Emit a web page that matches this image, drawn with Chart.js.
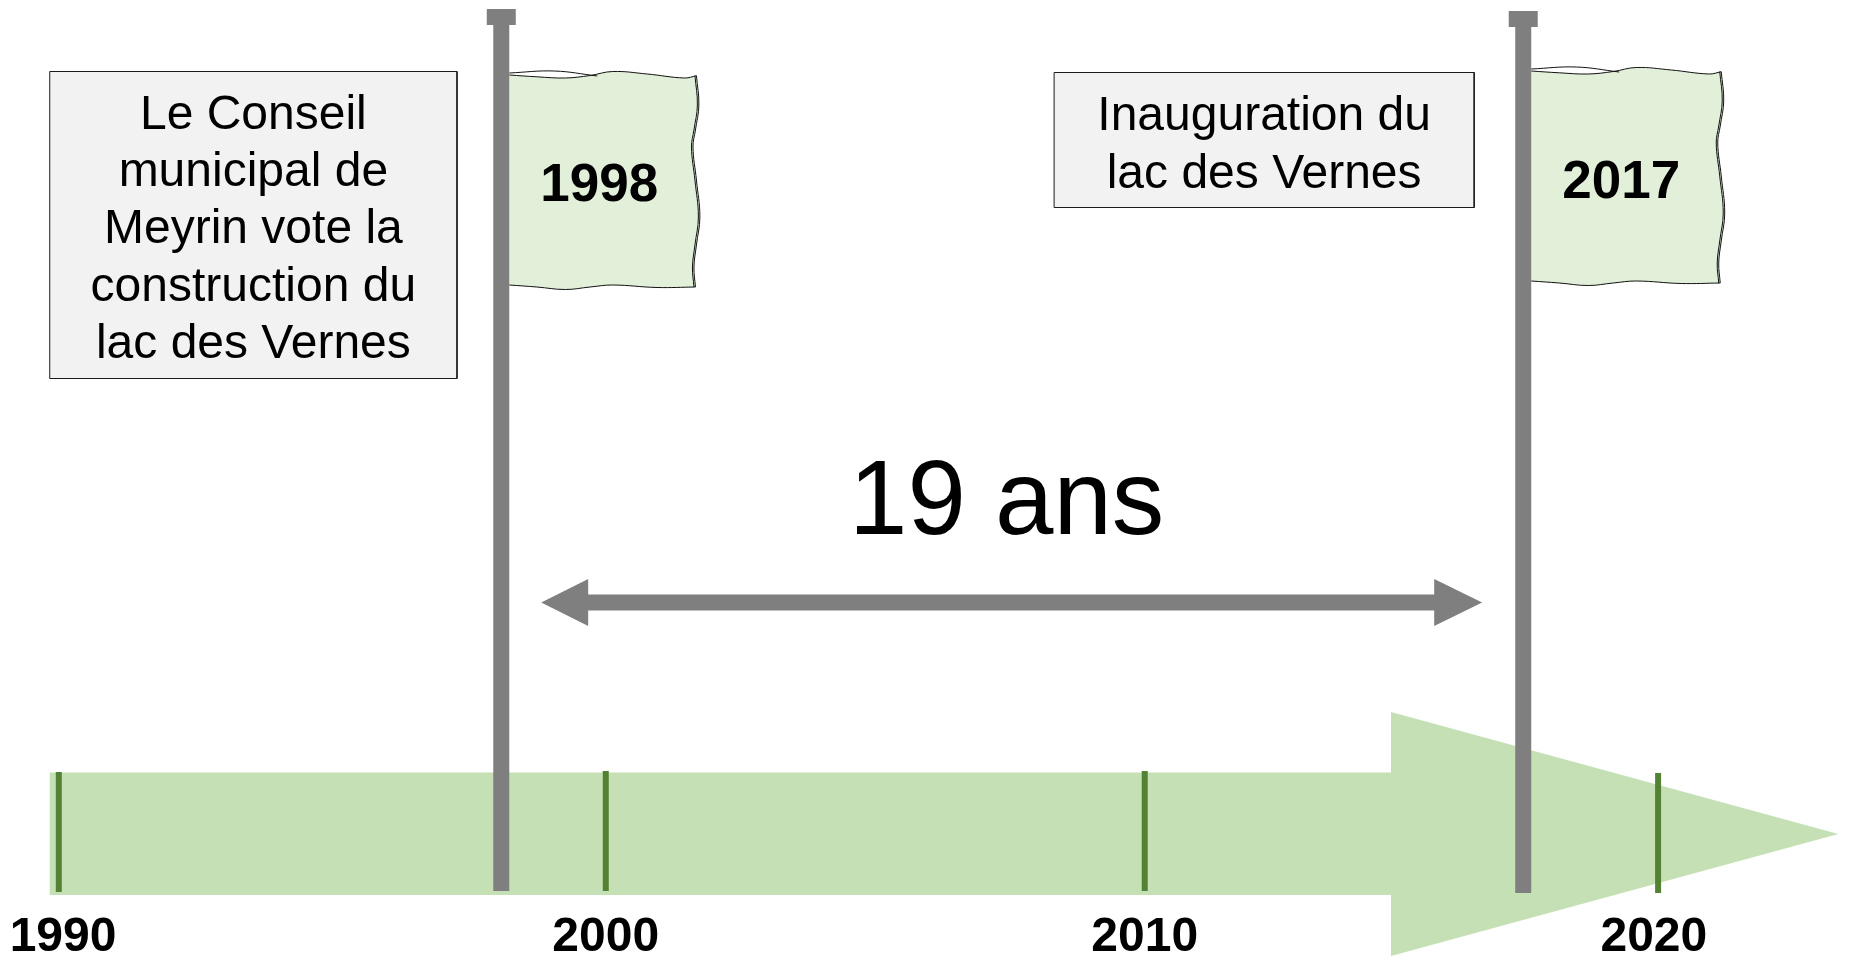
<!DOCTYPE html>
<html>
<head>
<meta charset="utf-8">
<title>Lac des Vernes</title>
<script src="https://cdn.jsdelivr.net/npm/chart.js@4"></script>
<style>
    html, body { margin: 0; padding: 0; background: #ffffff; }
    canvas { display: block; }
</style>
</head>
<body>
<canvas id="myChart" width="1849" height="958"></canvas>
<script>
// data (the axis is drawn slightly uneven, hence the decimals)
var tickLabels = ['1990', '2000', '2010', '2020'];
var tickYears = [1990, 2000.26, 2010.37, 2020];
var tickLabelYears = [1990.08, 2000.26, 2010.37, 2019.92];
var eventLabels = ['1998', '2017'];
var eventYears = [1998.3, 2017.47];
var durationLabel = '19 ans';
var startText = ['Le Conseil', 'municipal de', 'Meyrin vote la', 'construction du', 'lac des Vernes'];
var endText = ['Inauguration du', 'lac des Vernes'];

var pxPerYear = 53.31;
var xMin = 1988.897;
var xMax = xMin + 1849 / pxPerYear;

// width in pixels -> width in axis years
function yr(px) {
    return px / pxPerYear;
}

function poly(points, color, extra) {
    var ds = {
        data: points,
        showLine: true,
        pointRadius: 0,
        borderWidth: 0,
        borderColor: color,
        backgroundColor: color,
        fill: 'shape',
        clip: false
    };
    for (var k in (extra || {})) {
        ds[k] = extra[k];
    }
    return ds;
}

function line(points, color, width, extra) {
    return poly(points, color, Object.assign({ fill: false, borderWidth: width }, extra || {}));
}

function box(x0, x1, y0, y1) {
    return poly([{ x: x0, y: y0 }, { x: x1, y: y0 }, { x: x1, y: y1 }, { x: x0, y: y1 }, { x: x0, y: y0 }], '#f2f2f2', {
        borderColor: '#1a1a1a',
        borderWidth: 1
    });
}

// waving flag edges, pixels from the top left corner of a flag of 190 wide
var flagTop = [[0, 0], [28, 1.8], [57, 3], [82, 0.5], [105, -3.5], [140, -1], [178, 3], [190, 0.7]];
var flagRight = [[190, 0.7], [192.5, 30], [189, 55], [186.5, 72], [190, 105], [193.5, 142], [190, 170], [187.5, 192], [189, 212]];
var flagBottom = [[189, 212], [150, 212.5], [105, 210], [82, 212], [57, 214.5], [28, 212], [0, 210]];

function flagPoints(edge, i, widthFactor) {
    var left = eventYears[i] + yr(8);
    var top = i == 0 ? 75 : 71;
    return edge.map(function (p) {
        return { x: left + yr(p[0] * widthFactor), y: top + p[1] };
    });
}

function addFlag(list, i) {
    var f = i == 0 ? 0.985 : 1;
    // the three outlines with a small offset copy, as in the drawing
    var top = flagPoints(flagTop, i, f);
    var right = flagPoints(flagRight, i, f);
    var bottom = flagPoints(flagBottom, i, f);
    var left = eventYears[i] + yr(8);
    var y0 = i == 0 ? 75 : 71;
    list.push(line(top, '#111111', 1, { tension: 0.4 }));
    list.push(line(right, '#111111', 1, { tension: 0.4 }));
    list.push(line(bottom, '#111111', 1, { tension: 0.4 }));
    list.push(line([{ x: left, y: y0 - 2 }, { x: left + yr(45), y: y0 - 4 }, { x: left + yr(88), y: y0 + 1 }], '#111111', 1, { tension: 0.4 }));
    list.push(line(right.map(function (p) { return { x: p.x - yr(1.5), y: p.y }; }), '#111111', 1, { tension: 0.4 }));
    list.push(poly(top.concat(right, bottom), '#e2f0d9'));
}

var datasets = [];

// poles with their caps
var poleTops = [9, 11];
var poleBottoms = [891, 893];
eventYears.forEach(function (year, i) {
    datasets.push(line([{ x: year, y: poleTops[i] }, { x: year, y: poleTops[i] + 16 }], '#7f7f7f', 29));
    datasets.push(line([{ x: year, y: poleTops[i] + 16 }, { x: year, y: poleBottoms[i] }], '#7f7f7f', 16));
});

// flags
addFlag(datasets, 0);
addFlag(datasets, 1);

// text boxes
datasets.push(box(1989.83, 1997.47, 71.5, 378.5));
datasets.push(box(2008.67, 2016.55, 72.5, 207.5));

// double arrow between both events
datasets.push(poly([
    { x: 1999.05, y: 602.5 }, { x: 1999.93, y: 579 }, { x: 1999.93, y: 594.5 },
    { x: 2015.8, y: 594.5 }, { x: 2015.8, y: 579 }, { x: 2016.7, y: 602.5 },
    { x: 2015.8, y: 626 }, { x: 2015.8, y: 610.5 }, { x: 1999.93, y: 610.5 },
    { x: 1999.93, y: 626 }, { x: 1999.05, y: 602.5 }
], '#7f7f7f'));

// year marks
var tickTops = [772, 771, 771, 773];
tickYears.forEach(function (year, i) {
    datasets.push(line([{ x: year, y: tickTops[i] }, { x: year, y: tickTops[i] + 120 }], '#548235', 6));
});

// big timeline arrow
datasets.push(poly([
    { x: 1989.83, y: 772.5 }, { x: 2014.99, y: 772.5 }, { x: 2014.99, y: 712 },
    { x: 2023.38, y: 834 }, { x: 2014.99, y: 956 }, { x: 2014.99, y: 895 },
    { x: 1989.83, y: 895 }, { x: 1989.83, y: 772.5 }
], '#c5e0b4'));

var textPlugin = {
    id: 'texts',
    afterDatasetsDraw: function (chart) {
        var ctx = chart.ctx;
        var sx = chart.scales.x, sy = chart.scales.y;
        function put(str, xv, yv, font) {
            ctx.font = font;
            ctx.fillText(str, sx.getPixelForValue(xv), sy.getPixelForValue(yv));
        }
        ctx.save();
        ctx.fillStyle = '#000000';
        ctx.textAlign = 'center';
        ctx.textBaseline = 'alphabetic';

        var regular = '48px "Liberation Sans"';
        var bold = 'bold 53px "Liberation Sans"';

        var center1 = (1989.83 + 1997.47) / 2;
        var base1 = [129, 186, 243, 301, 358];
        startText.forEach(function (s, i) { put(s, center1, base1[i], regular); });

        var center2 = (2008.67 + 2016.55) / 2;
        var base2 = [130, 188];
        endText.forEach(function (s, i) { put(s, center2, base2[i], regular); });

        var flagBase = [201, 198];
        eventLabels.forEach(function (s, i) {
            put(s, eventYears[i] + yr(98), flagBase[i], bold);
        });

        put(durationLabel, 2007.78, 534, '105px "Liberation Sans"');
        ctx.restore();
    }
};

new Chart(document.getElementById('myChart').getContext('2d'), {
    type: 'scatter',
    data: { datasets: datasets },
    plugins: [textPlugin],
    options: {
        responsive: false,
        animation: false,
        layout: { padding: 0 },
        plugins: {
            legend: { display: false },
            tooltip: { enabled: false }
        },
        scales: {
            x: {
                type: 'linear',
                min: xMin,
                max: xMax,
                position: { y: 906 },
                grid: { display: false, drawTicks: false },
                border: { display: false },
                afterBuildTicks: function (scale) {
                    scale.ticks = tickLabelYears.map(function (v) { return { value: v }; });
                },
                ticks: {
                    autoSkip: false,
                    maxRotation: 0,
                    minRotation: 0,
                    color: '#000000',
                    font: { family: '"Liberation Sans"', size: 48, weight: 'bold' },
                    callback: function (value, index) {
                        return tickLabels[index];
                    }
                }
            },
            y: {
                type: 'linear',
                display: false,
                reverse: true,
                min: 0,
                max: 958
            }
        }
    }
});
</script>
</body>
</html>
